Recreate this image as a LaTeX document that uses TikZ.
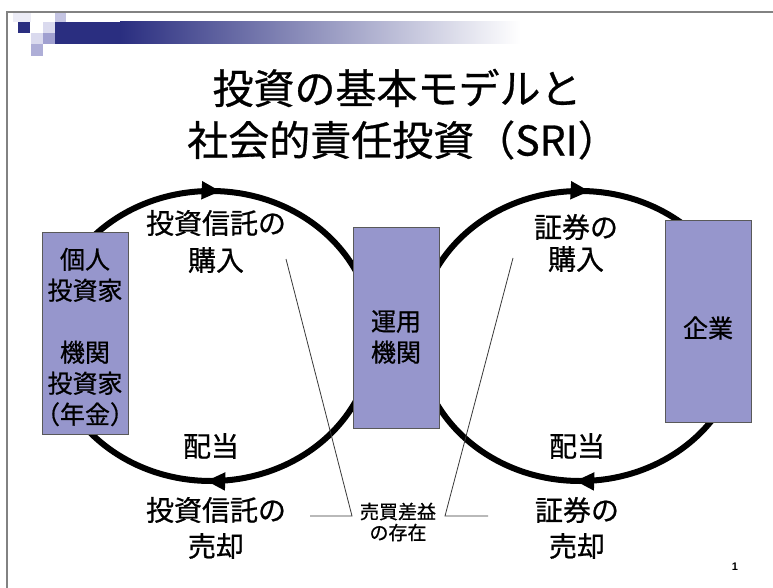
\documentclass[tikz,border=0pt]{standalone}
\usepackage{fontspec}
\setmainfont{Noto Sans CJK JP}[FakeBold=0.7]
\newfontfamily\numfont{Liberation Sans}
\usetikzlibrary{decorations.markings,arrows.meta}
\definecolor{boxfill}{RGB}{150,150,204}
\definecolor{navy}{RGB}{42,46,128}
\definecolor{lavA}{RGB}{236,236,246}
\definecolor{lavB}{RGB}{218,218,238}
\definecolor{lavC}{RGB}{196,196,226}
\definecolor{lavD}{RGB}{160,160,208}
\definecolor{framegray}{RGB}{130,130,130}
\begin{document}
\begin{tikzpicture}[x=1pt,y=-1pt,
  box/.style={draw=gray!70!black, line width=0.8pt, fill=boxfill, minimum width=86pt, anchor=north west, inner sep=0pt},
  boxtext/.style={font=\fontsize{25}{31}\selectfont, align=center, inner sep=0pt},
  lbl/.style={font=\fontsize{28}{32}\selectfont, inner sep=0pt},
  ttl/.style={font=\fontsize{41}{48}\selectfont, inner sep=0pt},
  small/.style={font=\fontsize{19}{21}\selectfont, align=center, inner sep=0pt},
  callout/.style={draw=gray!45!black, line width=0.8pt},
  tipmark/.style={decoration={markings,
      mark=at position 0.24 with {\arrowreversed{Triangle[length=19pt,width=17pt]}},
      mark=at position 0.745 with {\arrowreversed{Triangle[length=19pt,width=17pt]}}}},
  cyc/.style={line width=6pt, tipmark, postaction=decorate}]
\useasboundingbox (0,0) rectangle (773,588);
\fill[white] (0,0) rectangle (773,588);
% frame
\draw[framegray, line width=1.2pt] (7,588) -- (7,12) -- (773,12);
% header decoration
\fill[lavA] (13,13) rectangle (31,22);
\fill[navy] (18,22) rectangle (30,33);
\fill[lavB] (43,22) rectangle (55,33);
\fill[lavC] (55,13) rectangle (66,22);
\fill[lavB] (31,33) rectangle (43,44);
\fill[lavD] (43,33) rectangle (55,44);
\fill[lavD!85!white] (31,44) rectangle (43,56);
\fill[navy] (55,22) rectangle (120,44);
\shade[left color=navy, right color=white] (120,22) rectangle (520,44);
% title
\node[ttl] (t1) at (397,88) {投資の基本モデルと};
\node[ttl] (t2) at (403,140) {社会的責任投資（SRI）};
% cycles
\draw[cyc] (211,336) ellipse [x radius=162pt, y radius=145pt];
\draw[cyc] (580,336) ellipse [x radius=162pt, y radius=145pt];
% boxes
\node[box, minimum height=202pt] (inv) at (42,232) {};
\node[box, minimum height=201pt] (mgr) at (353,227) {};
\node[box, minimum height=202pt] (corp) at (665,220) {};
\node[boxtext] (invt) at (85,337) {個人\\投資家\\[31pt]機関\\投資家\\（年金）};
\node[boxtext] (mgrt) at (396,337) {運用\\機関};
\node[boxtext] (corpt) at (708,328) {企業};
% labels
\node[lbl] (b1a) at (216,223) {投資信託の};
\node[lbl] (b1b) at (216,260) {購入};
\node[lbl] (b2a) at (576,227) {証券の};
\node[lbl] (b2b) at (576,259) {購入};
\node[lbl] (d1) at (211,446) {配当};
\node[lbl] (d2) at (577,446) {配当};
\node[lbl] (s1a) at (216,510) {投資信託の};
\node[lbl] (s1b) at (216,546) {売却};
\node[lbl] (s2a) at (577,510) {証券の};
\node[lbl] (s2b) at (577,546) {売却};
% gain label and callouts
\node[small] (gain) at (398,522) {売買差益\\の存在};
\coordinate (la) at (286,259);
\coordinate (lb) at (352,516);
\coordinate (lc) at (310,516);
\coordinate (ra) at (513,258);
\coordinate (rb) at (445,516);
\coordinate (rc) at (488,516);
\draw[callout] (lc) -- (lb) -- (la);
\draw[callout] (rc) -- (rb) -- (ra);
% page number
\node[inner sep=0pt, font=\numfont\bfseries\fontsize{11}{13}\selectfont] (pg) at (735,567) {1};
\end{tikzpicture}
\end{document}
